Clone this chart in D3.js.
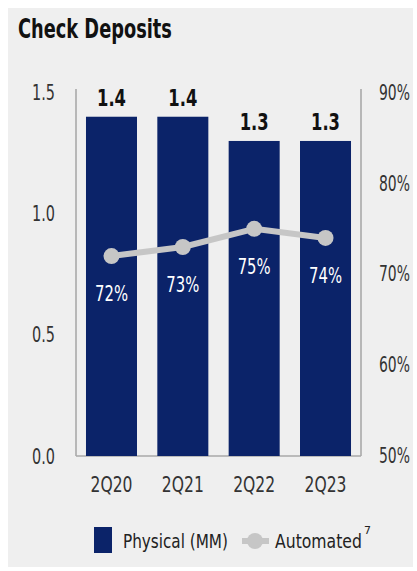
<!DOCTYPE html>
<html>
<head>
<meta charset="utf-8">
<script src="https://cdn.jsdelivr.net/npm/d3@7"></script>
<style>
  html, body { margin: 0; padding: 0; background: #ffffff; }
  svg { display: block; }
  text { font-family: "DejaVu Sans", sans-serif; }
</style>
</head>
<body>
<svg id="chart" width="417" height="571"></svg>
<script>
// Check deposit volumes by quarter
const categories = ["2Q20", "2Q21", "2Q22", "2Q23"];
const physical = [1.4, 1.4, 1.3, 1.3];          // millions
const automated = [72, 73, 75, 74];             // percent
const leftTicks = [0, 0.5, 1.0, 1.5];
const rightTicks = [50, 60, 70, 80, 90];

const navy = "#0b2369";
const grey = "#c6c6c6";
const axisGrey = "#a9a9a9";

// Narrow a group of texts horizontally about their anchor points so that the
// first text of the group spans `width` pixels (gives a condensed face).
function condense(sel, width) {
  const first = sel.node();
  if (!first) return;
  const k = width / first.getComputedTextLength();
  sel.each(function () {
    const ax = +(this.getAttribute("x") || 0);
    this.setAttribute("transform", `translate(${ax},0) scale(${k},1) translate(${-ax},0)`);
  });
}

const svg = d3.select("#chart");

// panel background
svg.append("rect").attr("x", 8).attr("y", 8).attr("width", 405).attr("height", 559).attr("fill", "#efefef");

svg.append("text").attr("x", 18).attr("y", 38)
  .attr("font-size", 27).attr("font-weight", "bold").attr("fill", "#111")
  .text("Check Deposits").call(condense, 154);

const x = d3.scaleBand().domain(categories).range([76, 361]).paddingInner(0.285).paddingOuter(0.14);
const yL = d3.scaleLinear().domain([0, 1.5]).range([456, 92.5]);
const yR = d3.scaleLinear().domain([50, 90]).range([456, 92.5]);

// axes frame
const frame = svg.append("g").attr("stroke", axisGrey).attr("stroke-width", 1.6).attr("fill", "none");
frame.append("line").attr("x1", 76).attr("x2", 76).attr("y1", 89).attr("y2", yL(0));
frame.append("line").attr("x1", 361).attr("x2", 361).attr("y1", 89).attr("y2", yL(0));
frame.append("line").attr("x1", 76).attr("x2", 361).attr("y1", yL(0)).attr("y2", yL(0));

// left axis labels
const leftAxis = d3.axisLeft(yL).tickValues(leftTicks).tickFormat(d3.format(".1f")).tickSize(0).tickPadding(0);
svg.append("g").attr("transform", "translate(55,0)").call(leftAxis)
  .call(g => g.select(".domain").remove())
  .call(g => g.selectAll("text").attr("font-size", 22).attr("fill", "#333").attr("font-family", null).call(condense, 23));

// right axis labels
const rightAxis = d3.axisRight(yR).tickValues(rightTicks).tickFormat(d => d + "%").tickSize(0).tickPadding(0);
svg.append("g").attr("transform", "translate(379,0)").call(rightAxis)
  .call(g => g.select(".domain").remove())
  .call(g => g.selectAll("text").attr("font-size", 21).attr("fill", "#333").attr("font-family", null).call(condense, 31));

// category labels
const bottomAxis = d3.axisBottom(x).tickSize(0).tickPadding(0);
svg.append("g").attr("transform", "translate(0,477)").call(bottomAxis)
  .call(g => g.select(".domain").remove())
  .call(g => g.selectAll("text").attr("font-size", 21).attr("fill", "#333").attr("font-family", null).call(condense, 42));

// bars
svg.append("g").selectAll("rect").data(categories).join("rect")
  .attr("x", d => x(d)).attr("width", x.bandwidth())
  .attr("y", (d, i) => yL(physical[i])).attr("height", (d, i) => yL(0) - yL(physical[i]))
  .attr("fill", navy);

// bar value labels
svg.append("g").selectAll("text").data(categories).join("text")
  .attr("x", d => x(d) + x.bandwidth() / 2)
  .attr("y", (d, i) => yL(physical[i]) - 11)
  .attr("text-anchor", "middle").attr("font-size", 23).attr("font-weight", "bold").attr("fill", "#111")
  .text((d, i) => d3.format(".1f")(physical[i])).call(condense, 29);

// automated share line
const line = d3.line().x((d, i) => x(categories[i]) + x.bandwidth() / 2).y(d => yR(d));
svg.append("path").datum(automated).attr("d", line)
  .attr("fill", "none").attr("stroke", grey).attr("stroke-width", 6).attr("stroke-linejoin", "round");
svg.append("g").selectAll("circle").data(automated).join("circle")
  .attr("cx", (d, i) => x(categories[i]) + x.bandwidth() / 2).attr("cy", d => yR(d))
  .attr("r", 8).attr("fill", grey);
svg.append("g").selectAll("text").data(automated).join("text")
  .attr("x", (d, i) => x(categories[i]) + x.bandwidth() / 2)
  .attr("y", d => yR(d) + 45)
  .attr("text-anchor", "middle").attr("font-size", 21).attr("fill", "#ffffff")
  .text(d => d + "%").call(condense, 33);

// legend
const lg = svg.append("g");
lg.append("rect").attr("x", 94).attr("y", 527).attr("width", 18).attr("height", 26).attr("fill", navy);
lg.append("text").attr("x", 123).attr("y", 548).attr("font-size", 20).attr("fill", "#222")
  .text("Physical (MM)").call(condense, 105);
lg.append("line").attr("x1", 242).attr("x2", 269).attr("y1", 541).attr("y2", 541)
  .attr("stroke", grey).attr("stroke-width", 6);
lg.append("circle").attr("cx", 255).attr("cy", 541).attr("r", 8).attr("fill", grey);
lg.append("text").attr("x", 275).attr("y", 548).attr("font-size", 20).attr("fill", "#222")
  .text("Automated").call(condense, 87);
lg.append("text").attr("x", 364).attr("y", 534).attr("font-size", 11).attr("fill", "#222").text("7");
</script>
</body>
</html>
